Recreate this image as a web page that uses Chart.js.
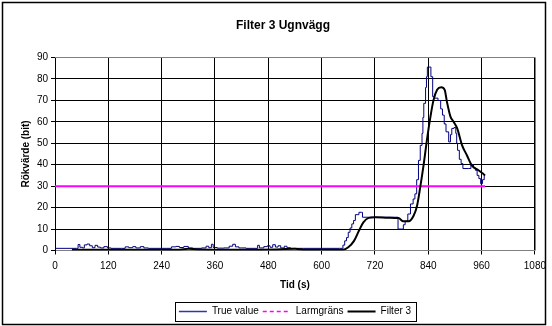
<!DOCTYPE html>
<html><head><meta charset="utf-8">
<script src="https://cdn.jsdelivr.net/npm/chart.js@4/dist/chart.umd.min.js"></script>
<style>html,body{margin:0;padding:0;background:#fff}#wrap{width:552px;height:326px;position:relative}</style>
</head><body><div id="wrap"><canvas id="c" width="552" height="326"></canvas></div>
<script>
// ---- data ----
const xTicks = [0,120,240,360,480,600,720,840,960,1080];
const yTicks = [0,10,20,30,40,50,60,70,80,90];
const seriesNames = ['True value','Larmgräns','Filter 3'];

const trueT = [0,48,52,56,62,66,72,78,84,90,96,102,110,118,126,150,158,166,175,182,192,200,210,250,262,272,280,290,300,310,330,340,346,352,356,365,380,392,400,406,414,430,450,456,460,470,478,484,490,496,502,508,516,522,530,560,600,640,648,652,656,660,664,668,672,676,680,684,690,692,770,772,780,784,788,794,800,806,810,814,818,822,826,828,830,834,836,838,844,846,850,854,862,868,872,876,880,886,890,893,898,902,904,906,910,914,918,930,936,942,946,950,954,958,962,966];
const trueV = [1,1,2.8,1.5,1.2,2.6,3,2.2,1.3,2.4,1.6,1.2,1.8,1.2,1,1,1.7,1.3,1.8,1.2,1.8,1.2,1,1,1.7,1.9,1.4,1.9,1.2,1,1.2,2,1.3,2.9,1.4,1.1,1.2,2,2.9,1.7,1.2,1,1,2.4,1.2,1.8,2.2,1.5,2.7,1.6,2.2,1.2,2,1.3,1,1,1,1,2.5,4.5,6,8.5,10.5,12.4,14,16.7,16.7,17.8,17.8,15.5,15.5,10,10,12,13.7,17,21.7,24,26.4,33,42,49,54.6,62,68.6,76,81,85.5,85.5,81,71.7,71,69.9,66,63.1,59,55.3,50.6,54,56.9,57.3,54.6,50,46.7,42.5,40.5,38.2,38.2,40,38.5,37.4,35,33.5,31.1,33,35];

const larmT = [0,968];
const larmV = [30,30];

const filtT = [38,100,200,280,300,320,400,500,540,560,640,648,660,673,684,694,706,721,750,773,784,796,807,815,822,830,837,845,852,860,869,877,882,890,897,905,916,927,938,953,962,968];
const filtV = [0.3,0.4,0.3,0.4,0.8,0.5,0.4,0.5,0.8,0.4,0.3,0.3,1.5,4.5,9.2,13.1,15.2,15.5,15.3,15.1,13.6,13.6,16.2,21,29.5,40.5,51.4,62.4,70.2,74.9,76.1,74.9,69.4,62.4,60,57,49.1,44.4,39.7,37.4,36,35];

const pts = (t,v) => t.map((x,i)=>({x:x,y:v[i]}));
const FONT = "'Liberation Sans', Arial, sans-serif";

function hitBounds(hb){
  let l=Infinity,r=-Infinity,t=Infinity,b=-Infinity;
  hb.forEach(h=>{l=Math.min(l,h.left);r=Math.max(r,h.left+h.width);t=Math.min(t,h.top);b=Math.max(b,h.top+h.height);});
  return {l,r,t,b};
}

const framePlugin = {
  id:'frame',
  afterLayout(chart){
    const lg = chart.legend;
    if (lg){
      const dx = 295 - (lg.left+lg.right)/2, dy = 302.5 - lg.top;
      lg.left+=dx; lg.right+=dx; lg.top+=dy; lg.bottom+=dy;
    }
    const tb = chart.titleBlock;
    if (tb){ const dx = 283 - (tb.left+tb.right)/2; tb.left+=dx; tb.right+=dx; }
  },
  beforeDraw(chart){
    const c = chart.ctx;
    c.save(); c.fillStyle='#fff'; c.fillRect(0,0,chart.width,chart.height); c.restore();
  },
  afterDraw(chart){
    const c = chart.ctx, a = chart.chartArea;
    c.save();
    c.strokeStyle='#808080'; c.lineWidth=1;
    c.beginPath();
    c.moveTo(a.left, Math.round(a.top)+0.5); c.lineTo(a.right, Math.round(a.top)+0.5);
    c.moveTo(Math.round(a.right)+0.5, a.top); c.lineTo(Math.round(a.right)+0.5, a.bottom);
    c.stroke();
    c.strokeStyle='#000'; c.lineWidth=1.5;
    c.strokeRect(2.5,2.5,543,322);
    const hb = chart.legend.legendHitBoxes;
    if (hb && hb.length){
      const B = hitBounds(hb);
      c.lineWidth=1; c.strokeStyle='#000';
      c.strokeRect(175.5, Math.round(B.t-5)+0.5, 241, Math.round(B.b-B.t+9));
    }
    c.restore();
  }
};

new Chart(document.getElementById('c'), {
  type:'line',
  data:{datasets:[
    {label:seriesNames[0], data:pts(trueT,trueV), borderColor:'#000080', borderWidth:1, pointRadius:0, stepped:true, order:3},
    {label:seriesNames[1], data:pts(larmT,larmV), borderColor:'#FF00FF', borderWidth:2, pointRadius:0, order:2},
    {label:seriesNames[2], data:pts(filtT,filtV), borderColor:'#000000', borderWidth:2, pointRadius:0, tension:0.4, cubicInterpolationMode:'monotone', order:1}
  ]},
  options:{
    responsive:false, devicePixelRatio:1, animation:false,
    layout:{padding:{left:6,right:16,top:6,bottom:4}},
    plugins:{
      title:{display:true, text:'Filter 3 Ugnvägg', color:'#000', font:{family:FONT,size:12,weight:'bold'}, padding:{top:12,bottom:25}},
      legend:{position:'bottom', labels:{color:'#000', font:{family:FONT,size:10}, usePointStyle:true, pointStyleWidth:28, boxHeight:6, padding:4,
        sort:(a,b)=>a.datasetIndex-b.datasetIndex,
        generateLabels(chart){
          const items = Chart.defaults.plugins.legend.labels.generateLabels(chart);
          items.forEach(it=>{ it.pointStyle='line'; it.fillStyle='rgba(0,0,0,0)';
            if(it.datasetIndex===0){it.lineWidth=1.5; it.strokeStyle='#3333aa';}
            if(it.datasetIndex===1){it.lineDash=[4,3]; it.lineWidth=1.5;}
            if(it.datasetIndex===2){it.lineWidth=2;}
          });
          return items;
        }}},
      tooltip:{enabled:false}
    },
    scales:{
      x:{type:'linear', min:0, max:1080,
        afterBuildTicks(s){ s.ticks = xTicks.map(v=>({value:v})); },
        afterFit(s){ s.height = 47.5; },
        ticks:{color:'#000', font:{family:FONT,size:10}, padding:6, maxRotation:0, callback:v=>String(v)},
        grid:{color:'#000', lineWidth:1, tickLength:4, drawOnChartArea:true},
        border:{color:'#808080', width:1},
        title:{display:true, text:'Tid (s)', color:'#000', font:{family:FONT,size:10,weight:'bold'}, padding:{top:6,bottom:7}}
      },
      y:{min:0, max:90,
        afterBuildTicks(s){ s.ticks = yTicks.map(v=>({value:v})); },
        afterFit(s){ s.width = 49; },
        ticks:{color:'#000', font:{family:FONT,size:10}, padding:3},
        grid:{color:'#000', lineWidth:1, tickLength:4},
        border:{color:'#000', width:1},
        title:{display:true, text:'Rökvärde (bit)', color:'#000', font:{family:FONT,size:10,weight:'bold'}, padding:{top:14,bottom:4}}
      }
    }
  },
  plugins:[framePlugin]
});
</script>
</body></html>
